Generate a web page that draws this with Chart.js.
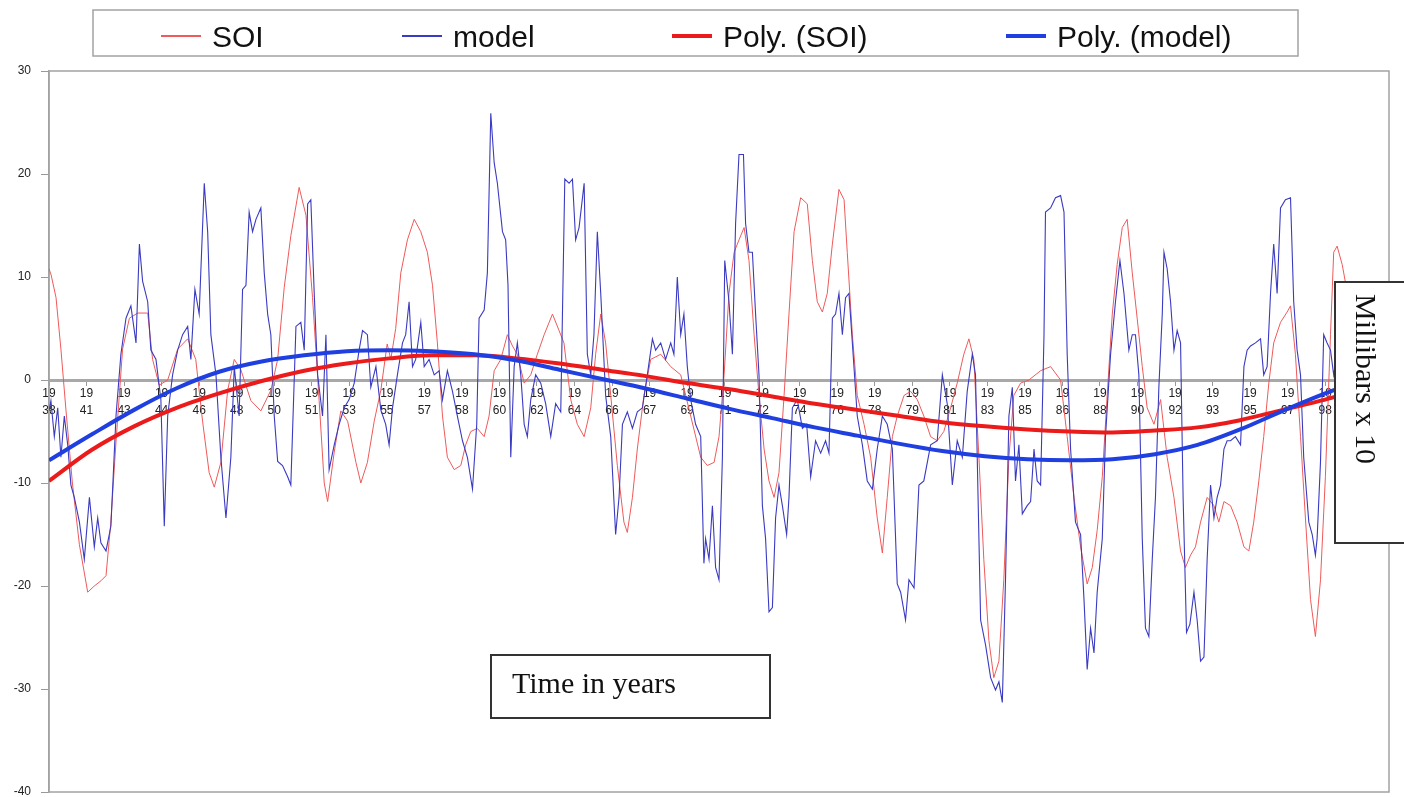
<!DOCTYPE html>
<html>
<head>
<meta charset="utf-8">
<script src="https://cdn.jsdelivr.net/npm/chart.js@4.4.1/dist/chart.umd.min.js"></script>
<style>
html,body{margin:0;padding:0;background:#fff;overflow:hidden}
#wrap{width:1404px;height:797px;position:relative}
</style>
</head>
<body>
<div id="wrap"><canvas id="c" width="1404" height="797"></canvas></div>
<script>
// ---- data ----
const tickLabels = ['38','41','43','44','46','48','50','51','53','55','57','58','60','62','64','66','67','69','71','72','74','76','78','79','81','83','85','86','88','90','92','93','95','97','98'];
const seriesNames = ['SOI','model','Poly. (SOI)','Poly. (model)'];

const soiYears = [1938.0,1938.1,1938.33,1938.56,1938.8,1939.1,1939.43,1939.82,1940.13,1940.44,1940.68,1940.9,1941.15,1941.46,1941.78,1942.17,1942.64,1942.87,1943.18,1943.58,1944.05,1944.52,1944.9,1945.22,1945.53,1945.77,1946.08,1946.4,1946.71,1947.02,1947.49,1947.96,1948.43,1948.75,1949.06,1949.37,1949.76,1950.08,1950.39,1950.7,1950.94,1951.1,1951.41,1951.72,1952.04,1952.43,1952.66,1952.97,1953.29,1953.6,1953.9,1954.07,1954.3,1954.54,1954.85,1955.17,1955.48,1955.79,1956.03,1956.26,1956.5,1956.73,1957.05,1957.36,1957.59,1957.83,1958.14,1958.46,1958.69,1958.93,1959.24,1959.55,1959.79,1960.02,1960.34,1960.65,1960.96,1961.28,1961.67,1961.98,1962.21,1962.53,1962.84,1963.16,1963.47,1963.7,1963.94,1964.17,1964.41,1964.72,1965.03,1965.19,1965.43,1965.66,1965.97,1966.29,1966.76,1967.23,1967.7,1968.17,1968.64,1968.95,1969.27,1969.5,1969.74,1969.97,1970.21,1970.44,1970.68,1970.91,1971.15,1971.38,1971.62,1971.85,1972.09,1972.32,1972.56,1972.79,1973.03,1973.34,1973.65,1973.89,1974.12,1974.36,1974.59,1974.83,1975.14,1975.38,1975.53,1975.77,1976.0,1976.32,1976.63,1976.94,1977.18,1977.41,1977.65,1977.88,1978.2,1978.51,1978.82,1979.13,1979.45,1979.76,1980.07,1980.39,1980.7,1981.01,1981.25,1981.48,1981.72,1981.95,1982.19,1982.42,1982.66,1982.89,1983.13,1983.36,1983.68,1984.07,1984.62,1985.09,1985.56,1985.87,1986.19,1986.5,1986.81,1987.05,1987.28,1987.52,1987.75,1987.99,1988.22,1988.46,1988.69,1988.93,1989.16,1989.4,1989.63,1989.95,1990.26,1990.57,1990.89,1991.2,1991.43,1991.67,1991.9,1992.14,1992.45,1992.77,1993.0,1993.24,1993.55,1993.86,1994.18,1994.41,1994.64,1994.88,1995.11,1995.35,1995.58,1995.9,1996.21,1996.37,1996.6,1996.84,1997.07,1997.31,1997.54,1997.78,1998.01,1998.25,1998.4,1998.56,1998.8,1998.95];
const soiValues = [10.8,10.2,8,3,-3,-10,-16,-20.6,-20,-19.5,-19,-14,-6,3,6,6.5,6.5,2,-0.5,0,3,4,2,-4,-9,-10.4,-8,-1,2,1,-2,-3,-1,2,9,14,18.7,16,8,-2,-10,-11.8,-7,-3,-4,-8,-10,-8,-4,-1,3.5,2,5,10.4,13.6,15.6,14.4,12.4,9.2,3.6,-3.5,-7.5,-8.7,-8.3,-6.3,-5,-4.7,-5.5,-3.5,0.9,2,4.4,3.3,2.5,-0.3,0.5,2.5,4.4,6.4,4.8,3.6,-1.9,-4.3,-5.5,-2.7,2.5,6.4,3.6,-1.5,-8.3,-13.8,-14.8,-11.4,-6.7,-1.5,2,2.5,1.3,0.5,-3.5,-7.5,-8.3,-8,-5.5,0.5,8.4,12.4,13.6,14.8,11.6,4.4,-1.5,-6.7,-9.8,-11.4,-9,-1.5,6.4,14.4,17.7,17.1,11.6,7.6,6.6,8.4,13.2,18.5,17.5,12.4,4.4,-1.5,-4.3,-7.5,-13.4,-16.8,-11.4,-5.5,-3.5,-1.5,-1.1,-1.9,-3.5,-5.5,-5.9,-5,-2.7,-0.3,2.5,4,2,-7.5,-17.4,-25.3,-28.9,-27.3,-19.4,-7.5,-1.5,-0.3,0,0.9,1.3,0,-5.5,-11.4,-16.2,-19.8,-18.2,-14.6,-9.4,-1.5,6.4,11.2,14.8,15.6,10.4,6,1.3,-2.7,-4.3,-1.9,-7.5,-11.4,-16.6,-18.2,-17,-16.2,-13.8,-11.4,-12.2,-13.8,-11.8,-12.2,-13.8,-16.2,-16.6,-13.8,-9.8,-5.5,-0.3,3.6,5.6,6.6,7.2,2.5,-5.5,-13.4,-21.3,-24.9,-19.4,-9.4,4.4,12.4,13,11.2,9.5];

const modelYears = [1938.0,1938.09,1938.25,1938.41,1938.56,1938.72,1938.88,1939.03,1939.19,1939.43,1939.66,1939.9,1940.13,1940.29,1940.44,1940.68,1940.91,1941.15,1941.38,1941.62,1941.85,1942.09,1942.25,1942.4,1942.64,1942.79,1943.03,1943.26,1943.42,1943.58,1943.81,1944.05,1944.28,1944.52,1944.67,1944.86,1945.06,1945.3,1945.46,1945.61,1945.85,1946.08,1946.32,1946.55,1946.71,1946.94,1947.1,1947.26,1947.41,1947.57,1947.73,1947.96,1948.12,1948.28,1948.43,1948.59,1948.75,1948.98,1949.22,1949.37,1949.61,1949.84,1950.0,1950.16,1950.31,1950.47,1950.63,1950.86,1951.02,1951.17,1951.41,1951.64,1951.88,1952.11,1952.35,1952.58,1952.74,1952.97,1953.13,1953.37,1953.6,1953.83,1953.99,1954.15,1954.38,1954.62,1954.77,1954.93,1955.09,1955.24,1955.48,1955.64,1955.87,1956.11,1956.34,1956.5,1956.73,1956.97,1957.2,1957.44,1957.67,1957.91,1958.11,1958.22,1958.46,1958.61,1958.77,1958.93,1959.08,1959.32,1959.47,1959.58,1959.71,1959.87,1960.02,1960.18,1960.34,1960.49,1960.65,1960.88,1961.12,1961.35,1961.59,1961.82,1962.06,1962.25,1962.45,1962.61,1962.76,1962.92,1963.16,1963.31,1963.47,1963.62,1963.78,1963.94,1964.17,1964.41,1964.64,1964.8,1964.96,1965.19,1965.43,1965.66,1965.9,1966.13,1966.37,1966.52,1966.76,1966.99,1967.23,1967.38,1967.54,1967.7,1967.85,1968.01,1968.17,1968.4,1968.64,1968.79,1968.87,1969.03,1969.19,1969.34,1969.5,1969.66,1969.77,1969.97,1970.13,1970.28,1970.44,1970.65,1970.75,1970.91,1971.07,1971.22,1971.38,1971.54,1971.69,1971.85,1972.01,1972.16,1972.32,1972.48,1972.68,1972.79,1972.95,1973.18,1973.42,1973.62,1973.81,1974.04,1974.28,1974.51,1974.67,1974.83,1974.98,1975.14,1975.3,1975.45,1975.61,1975.77,1976.0,1976.24,1976.47,1976.71,1976.94,1977.18,1977.41,1977.65,1977.88,1978.04,1978.27,1978.43,1978.67,1978.9,1979.13,1979.45,1979.76,1980.0,1980.23,1980.47,1980.7,1980.94,1981.17,1981.41,1981.56,1981.8,1982.03,1982.27,1982.5,1982.66,1982.82,1982.97,1983.13,1983.29,1983.44,1983.6,1983.76,1983.99,1984.15,1984.31,1984.46,1984.62,1984.78,1984.85,1985.09,1985.32,1985.56,1985.72,1985.87,1986.03,1986.26,1986.5,1986.66,1986.81,1986.97,1987.13,1987.28,1987.52,1987.67,1987.91,1988.14,1988.35,1988.54,1988.77,1988.93,1989.08,1989.24,1989.4,1989.55,1989.71,1989.87,1990.02,1990.18,1990.34,1990.42,1990.57,1990.73,1990.89,1991.04,1991.2,1991.32,1991.48,1991.64,1991.83,1991.98,1992.14,1992.3,1992.45,1992.61,1992.77,1992.92,1993.08,1993.24,1993.39,1993.55,1993.78,1994.02,1994.18,1994.33,1994.49,1994.72,1994.96,1995.11,1995.27,1995.43,1995.58,1995.74,1995.9,1996.13,1996.37,1996.52,1996.68,1996.84,1996.99,1997.23,1997.39,1997.54,1997.62,1997.78,1997.93,1998.09,1998.25,1998.4,1998.6,1998.9];
const modelValues = [-3,-2,-5.5,-2.7,-7.5,-3.5,-6.3,-10.2,-11.4,-13.8,-17.4,-11.4,-16.2,-13.4,-15.8,-16.6,-14.2,-3.5,2.5,6,7.2,3.6,13.2,9.6,7.6,2.9,2,-1.9,-14.2,-3.5,0.5,2.9,4.4,5.2,2,8.8,6.4,19.1,14.4,4.4,0.5,-7.5,-13.4,-7.5,1.3,-3.5,8.8,9.2,16.3,14.4,15.6,16.7,10.4,6.4,4.4,-3.5,-7.9,-8.3,-9.4,-10.2,5.2,5.6,2.9,17.1,17.5,8.4,0.5,-3.5,4.4,-8.7,-6.3,-4.3,-2.7,-1.9,-0.3,2.9,4.8,4.4,-0.7,1.3,-2.9,-4.3,-6.3,-2.7,0.5,3.6,4.4,7.6,1.3,2,5.6,1.3,2,0.5,0.9,-1.9,0.9,-1.1,-3.5,-5.9,-7.5,-10.6,-4.3,6,6.8,10.4,25.9,21.1,19.1,14.4,13.6,9.2,-7.5,1.3,3.6,0.5,-4.3,-5.5,-1.9,0.5,-0.3,-2.3,-5.5,-2.3,-3.1,19.5,19.1,19.5,13.6,14.8,19.1,2.5,0.5,4.4,14.4,8.4,-1.5,-5.5,-15,-11.4,-4.3,-3.1,-4.7,-3.1,-2.7,0.5,4,2.9,3.6,2,3.6,2.5,10,4.4,6.4,1.3,-1.9,-4.3,-5.5,-17.8,-15.4,-17.4,-12.2,-18.2,-19.4,-7.5,11.6,7.6,2.5,15.2,21.9,21.9,15.2,12.4,12.4,6.4,0.5,-12.2,-15.4,-22.5,-22.1,-13.4,-10.2,-12.2,-15,-11.4,-2.7,-1.9,-4.7,-4.3,-9.4,-5.9,-7.1,-5.9,-7.1,6,6.4,8.4,4.4,8,8.4,3.6,-3.5,-6.3,-9.8,-10.6,-6.7,-3.5,-4.3,-6.7,-19.8,-20.6,-23.3,-19.4,-20.2,-10.2,-9.8,-6.3,-5.9,0.5,-2.3,-10.2,-5.9,-7.5,-1.1,2.5,0.5,-23.3,-25.7,-28.9,-30.1,-29.3,-31.3,-19.4,-3.5,-0.7,-9.8,-6.3,-13,-12.2,-11.8,-6.7,-9.8,-10.2,4.4,16.3,16.7,17.7,17.9,16.3,2.5,-6.7,-13.8,-15,-21.3,-28.1,-24.1,-26.5,-20.6,-15.4,-5.5,2.5,7.6,11.6,8.4,2.9,4.4,4.4,0.5,-15.4,-24.1,-24.9,-17.4,-11.4,-0.7,6.4,12.4,10.8,7.6,2.9,4.8,3.6,-11.4,-24.5,-23.7,-20.6,-23.3,-27.3,-26.9,-17.4,-10.2,-13.4,-11.4,-10.2,-6.7,-5.9,-5.9,-5.5,-6.3,1.3,2.9,3.3,3.6,4,0.5,1.3,8.4,13.2,8.4,16.7,17.5,17.7,7.6,2.9,0.5,-7.5,-13.8,-15,-17,-15.4,-7.9,4.4,3.6,2.9,0.5,3,3];

const polyYears = [1938,1940,1942,1944,1946,1948,1950,1952,1954,1956,1958,1960,1962,1964,1966,1968,1970,1972,1974,1976,1978,1980,1982,1984,1986,1988,1990,1992,1994,1996,1998,1998.9];
const polySoiValues = [-9.8,-6.8,-4.5,-2.7,-1.3,-0.1,0.9,1.6,2.1,2.4,2.4,2.1,1.6,1.0,0.4,-0.3,-0.9,-1.6,-2.3,-2.9,-3.5,-4.1,-4.5,-4.8,-5.0,-5.1,-4.9,-4.6,-3.9,-2.9,-1.9,-1.4];
const polyModelValues = [-7.8,-5.3,-2.9,-0.8,0.8,1.8,2.4,2.8,2.9,2.8,2.5,1.9,1.0,0.1,-0.8,-1.8,-2.8,-3.7,-4.6,-5.4,-6.2,-6.9,-7.4,-7.7,-7.8,-7.7,-7.2,-6.3,-4.8,-3.0,-1.3,-0.6];

const toPoints = (xs, ys) => xs.map((x, i) => ({x: x, y: ys[i]}));

// ---- decorations: plot frame, legend box, text boxes ----
const frame = {
  id: 'frame',
  beforeDatasetsDraw(chart) {
    const {ctx, chartArea: a} = chart;
    ctx.save();
    ctx.strokeStyle = '#a3a3a3';
    ctx.lineWidth = 1.5;
    ctx.strokeRect(a.left, a.top, a.right - a.left, a.bottom - a.top);
    ctx.restore();
  },
  afterDraw(chart) {
    const ctx = chart.ctx;
    ctx.save();
    // legend box
    ctx.fillStyle = '#fff';
    ctx.fillRect(93, 10, 1205, 46);
    ctx.strokeStyle = '#a3a3a3';
    ctx.lineWidth = 1.5;
    ctx.strokeRect(93, 10, 1205, 46);
    const itemX = [161, 402, 672, 1006];
    ctx.font = '30px "Liberation Sans", Arial, sans-serif';
    ctx.textBaseline = 'alphabetic';
    chart.data.datasets.forEach((ds, i) => {
      const x = itemX[i];
      ctx.strokeStyle = ds.borderColor;
      ctx.lineWidth = i < 2 ? 2 : 4;
      ctx.beginPath();
      ctx.moveTo(x, 36);
      ctx.lineTo(x + 40, 36);
      ctx.stroke();
      ctx.fillStyle = '#111';
      ctx.fillText(ds.label, x + 51, 47);
    });
    // "Time in years" box
    ctx.fillStyle = '#fff';
    ctx.fillRect(491, 655, 279, 63);
    ctx.strokeStyle = '#333';
    ctx.lineWidth = 2;
    ctx.strokeRect(491, 655, 279, 63);
    ctx.fillStyle = '#111';
    ctx.font = '30px "Liberation Serif", "Times New Roman", serif';
    ctx.fillText('Time in years', 512, 693);
    // "Millibars x 10" box
    ctx.fillStyle = '#fff';
    ctx.fillRect(1335, 282, 70, 261);
    ctx.strokeStyle = '#333';
    ctx.strokeRect(1335, 282, 70, 261);
    ctx.translate(1356, 294);
    ctx.rotate(Math.PI / 2);
    ctx.fillStyle = '#111';
    ctx.fillText('Millibars x 10', 0, 0);
    ctx.restore();
  }
};

new Chart(document.getElementById('c'), {
  type: 'line',
  data: {
    datasets: [
      {label: seriesNames[0], data: toPoints(soiYears, soiValues), borderColor: '#ef5a5a', borderWidth: 1, order: 3},
      {label: seriesNames[1], data: toPoints(modelYears, modelValues), borderColor: '#3a3ac2', borderWidth: 1.1, order: 2},
      {label: seriesNames[2], data: toPoints(polyYears, polySoiValues), borderColor: '#ec1b1b', borderWidth: 4, cubicInterpolationMode: 'monotone', order: 1},
      {label: seriesNames[3], data: toPoints(polyYears, polyModelValues), borderColor: '#1f3fe0', borderWidth: 4, cubicInterpolationMode: 'monotone', order: 0}
    ]
  },
  options: {
    responsive: false,
    animation: false,
    devicePixelRatio: 1,
    elements: {point: {radius: 0}, line: {tension: 0}},
    layout: {padding: {top: 71, left: 0, right: 15, bottom: 5}},
    plugins: {legend: {display: false}, tooltip: {enabled: false}},
    scales: {
      x: {
        type: 'linear',
        min: 1938,
        max: 2001,
        position: {y: 0},
        afterFit: (s) => { s.paddingTop = 0; s.paddingBottom = 0; s.height = 0; },
        afterBuildTicks: (s) => {
          s.ticks = tickLabels.map((t, i) => ({value: 1938 + i * 60 / (tickLabels.length - 1)}));
        },
        ticks: {
          autoSkip: false,
          maxRotation: 0,
          minRotation: 0,
          padding: 1,
          color: '#222',
          font: {family: '"Liberation Sans", Arial, sans-serif', size: 12, lineHeight: 1.4},
          callback: (v, i) => ['19', tickLabels[i]]
        },
        grid: {drawOnChartArea: false, drawTicks: true, tickLength: 4, color: '#999'},
        border: {display: true, color: '#a8a8a8', width: 3, dash: [6, 3]}
      },
      y: {
        min: -40,
        max: 30,
        afterFit: (s) => { s.width = 49; s.paddingTop = 0; s.paddingBottom = 0; },
        ticks: {
          stepSize: 10,
          padding: 10,
          color: '#222',
          font: {family: '"Liberation Sans", Arial, sans-serif', size: 12}
        },
        grid: {drawOnChartArea: false, drawTicks: true, tickLength: 8, color: '#999'},
        border: {display: true, color: '#a3a3a3', width: 1.5}
      }
    }
  },
  plugins: [frame]
});
</script>
</body>
</html>
